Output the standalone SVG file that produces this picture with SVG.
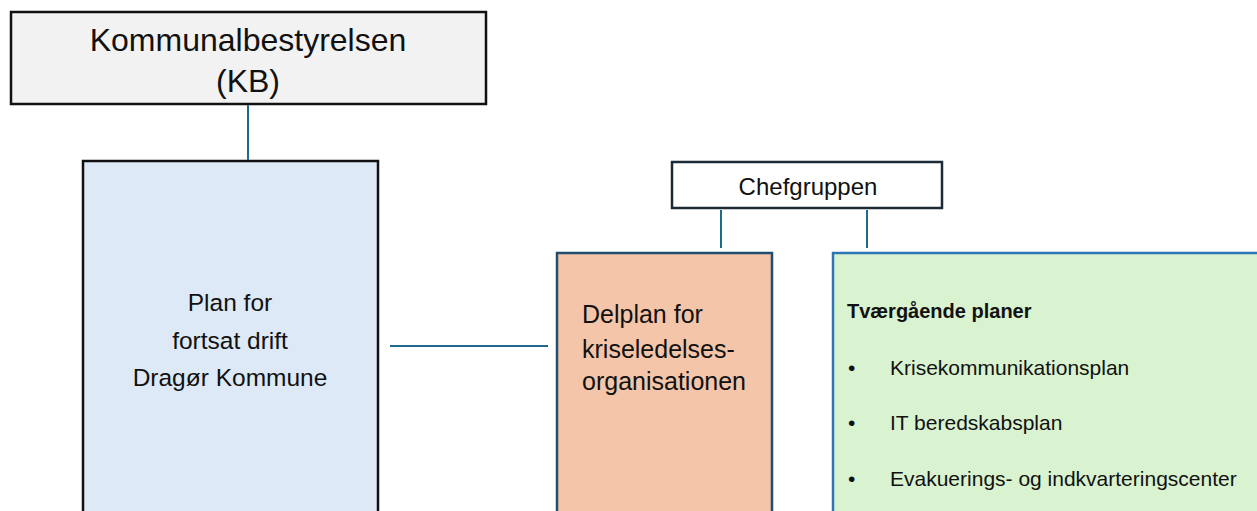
<svg xmlns="http://www.w3.org/2000/svg" width="1257" height="511" viewBox="0 0 1257 511">
<style>
text{font-family:"Liberation Sans",Arial,sans-serif;fill:#111}
.conn{stroke:#1f6a8a;stroke-width:2;fill:none}
.c{text-anchor:middle}
.li{font-size:21px}
</style>
<rect width="1257" height="511" fill="#fff"/>
<g id="kb">
<rect x="11" y="12" width="475" height="92" fill="#f2f2f2" stroke="#111" stroke-width="2.5"/>
<text class="c" x="248" y="51" font-size="32">Kommunalbestyrelsen</text>
<text class="c" x="248" y="92" font-size="32">(KB)</text>
</g>
<g id="plan">
<rect x="83" y="161" width="295" height="360" fill="#dde9f6" stroke="#111" stroke-width="2.5"/>
<text class="c" x="230" y="311" font-size="24.5">Plan for</text>
<text class="c" x="230" y="349" font-size="24.5">fortsat drift</text>
<text class="c" x="230" y="386" font-size="24.5">Dragør Kommune</text>
</g>
<g id="chefgruppen">
<rect x="672" y="162" width="270" height="46" fill="#fff" stroke="#1a2a36" stroke-width="2.5"/>
<text class="c" x="808" y="195" font-size="24">Chefgruppen</text>
</g>
<g id="delplan">
<rect x="557" y="253" width="215" height="270" fill="#f5c5aa" stroke="#1f4e6e" stroke-width="2.5"/>
<text x="582" y="323" font-size="25">Delplan for</text>
<text x="582" y="358" font-size="25">kriseledelses-</text>
<text x="582" y="390" font-size="25">organisationen</text>
</g>
<g id="tvaergaaende">
<rect x="833" y="253" width="440" height="270" fill="#d9f2d0" stroke="#2e75b6" stroke-width="2.5"/>
<text x="847" y="318" font-size="20" font-weight="bold">Tværgående planer</text>
<text class="li" x="848" y="375">•</text>
<text class="li" x="890" y="375">Krisekommunikationsplan</text>
<text class="li" x="848" y="430">•</text>
<text class="li" x="890" y="430">IT beredskabsplan</text>
<text class="li" x="848" y="486">•</text>
<text class="li" x="890" y="486">Evakuerings- og indkvarteringscenter</text>
</g>
<g id="connectors">
<line class="conn" x1="248" y1="105" x2="248" y2="160"/>
<line class="conn" x1="390" y1="346" x2="548" y2="346"/>
<line class="conn" x1="721" y1="210" x2="721" y2="248"/>
<line class="conn" x1="867" y1="210" x2="867" y2="248"/>
</g>
</svg>
